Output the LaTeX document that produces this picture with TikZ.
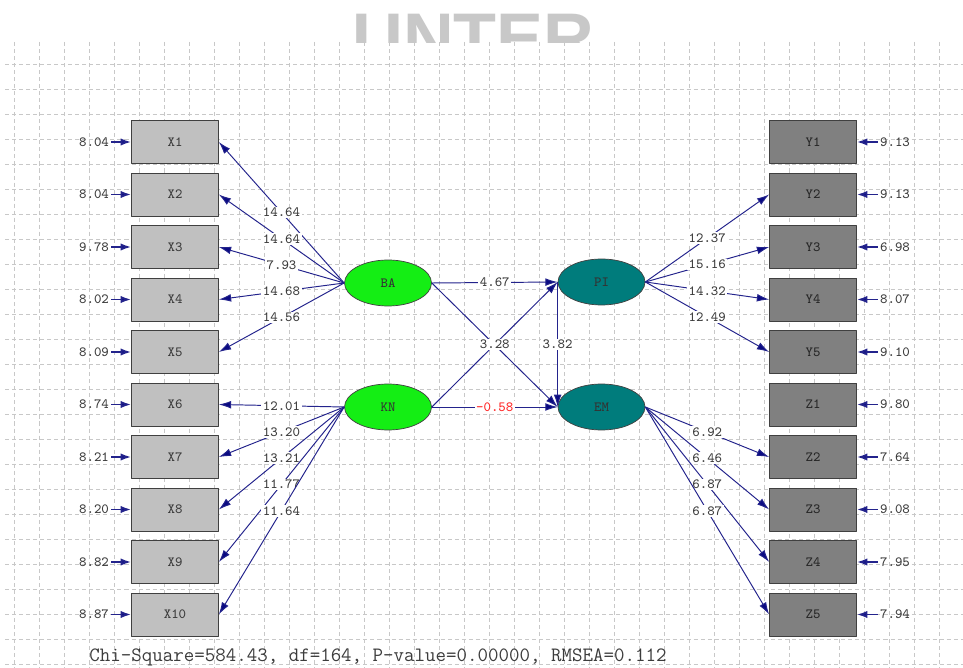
\documentclass[tikz,border=0pt]{standalone}
\usepackage{fontspec}
\setsansfont{Liberation Sans}
\usetikzlibrary{arrows.meta,shapes.geometric}
\definecolor{pathblue}{RGB}{35,35,140}
\definecolor{headblue}{RGB}{10,10,130}
\definecolor{gridgray}{RGB}{200,200,200}
\definecolor{markgray}{RGB}{200,200,200}
\definecolor{latgreen}{RGB}{20,238,20}
\definecolor{latteal}{RGB}{0,124,124}
\definecolor{boxlight}{RGB}{192,192,192}
\definecolor{boxdark}{RGB}{128,128,128}
\definecolor{txtgray}{RGB}{60,60,60}
\tikzset{
  smalltt/.style={font=\ttfamily\fontsize{8}{9}\selectfont},
  xbox/.style={draw=black!75, fill=boxlight, minimum width=1.74cm, minimum height=0.86cm, inner sep=0pt, smalltt, text=txtgray},
  ybox/.style={xbox, fill=boxdark, text=black!85},
  latent/.style={ellipse, draw=black!75, fill=latgreen, minimum width=1.74cm, minimum height=0.92cm, inner sep=0pt, smalltt, text=black!80},
  endo/.style={latent, fill=latteal},
  errlbl/.style={inner sep=1pt, smalltt, text=txtgray},
  lbl/.style={fill=white, inner sep=0.8pt, smalltt, text=txtgray},
  path/.style={draw=pathblue, line width=0.55pt, -{Latex[length=7pt,width=4.4pt,fill=headblue]}},
  errpath/.style={draw=pathblue, line width=1pt, -{Latex[length=6pt,width=4.2pt,fill=headblue]}},
}
\begin{document}
\begin{tikzpicture}[x=0.02cm,y=-0.02cm,line join=round]
\useasboundingbox (0,0) rectangle (963,668);
\fill[white] (0,0) rectangle (963,668);
% watermark, cut by the grid
\begin{scope}
\clip (0,0) rectangle (963,42.5);
\node[anchor=base west, inner sep=0pt, text=markgray, font=\sffamily\bfseries\fontsize{40}{42}\selectfont] (mark) at (352,63) {UNTER};
\end{scope}
% grid
\foreach \gx in {0,...,37}
  \draw[gridgray, line width=0.4pt, dash pattern=on 2.3pt off 1.7pt] (14.5+25*\gx,42) -- (14.5+25*\gx,668);
\foreach \gy in {0,...,24}
  \draw[gridgray, line width=0.4pt, dash pattern=on 2.3pt off 1.7pt] (5,64+25*\gy) -- (963,64+25*\gy);

% observed variables
\node[xbox] (X1) at (175,142) {X1};
\node[xbox] (X2) at (175,194.5) {X2};
\node[xbox] (X3) at (175,247) {X3};
\node[xbox] (X4) at (175,299.5) {X4};
\node[xbox] (X5) at (175,352) {X5};
\node[xbox] (X6) at (175,404.5) {X6};
\node[xbox] (X7) at (175,457) {X7};
\node[xbox] (X8) at (175,509.5) {X8};
\node[xbox] (X9) at (175,562) {X9};
\node[xbox] (X10) at (175,614.5) {X10};
\node[ybox] (Y1) at (813,142) {Y1};
\node[ybox] (Y2) at (813,194.5) {Y2};
\node[ybox] (Y3) at (813,247) {Y3};
\node[ybox] (Y4) at (813,299.5) {Y4};
\node[ybox] (Y5) at (813,352) {Y5};
\node[ybox] (Z1) at (813,404.5) {Z1};
\node[ybox] (Z2) at (813,457) {Z2};
\node[ybox] (Z3) at (813,509.5) {Z3};
\node[ybox] (Z4) at (813,562) {Z4};
\node[ybox] (Z5) at (813,614.5) {Z5};

% error variances
\node[errlbl] (eX1) at (94,142) {8.04};
\node[errlbl] (eX2) at (94,194.5) {8.04};
\node[errlbl] (eX3) at (94,247) {9.78};
\node[errlbl] (eX4) at (94,299.5) {8.02};
\node[errlbl] (eX5) at (94,352) {8.09};
\node[errlbl] (eX6) at (94,404.5) {8.74};
\node[errlbl] (eX7) at (94,457) {8.21};
\node[errlbl] (eX8) at (94,509.5) {8.20};
\node[errlbl] (eX9) at (94,562) {8.82};
\node[errlbl] (eX10) at (94,614.5) {8.87};
\node[errlbl] (eY1) at (895,142) {9.13};
\node[errlbl] (eY2) at (895,194.5) {9.13};
\node[errlbl] (eY3) at (895,247) {6.98};
\node[errlbl] (eY4) at (895,299.5) {8.07};
\node[errlbl] (eY5) at (895,352) {9.10};
\node[errlbl] (eZ1) at (895,404.5) {9.80};
\node[errlbl] (eZ2) at (895,457) {7.64};
\node[errlbl] (eZ3) at (895,509.5) {9.08};
\node[errlbl] (eZ4) at (895,562) {7.95};
\node[errlbl] (eZ5) at (895,614.5) {7.94};
\draw[errpath] (eX1.east) -- (X1.west);
\draw[errpath] (eX2.east) -- (X2.west);
\draw[errpath] (eX3.east) -- (X3.west);
\draw[errpath] (eX4.east) -- (X4.west);
\draw[errpath] (eX5.east) -- (X5.west);
\draw[errpath] (eX6.east) -- (X6.west);
\draw[errpath] (eX7.east) -- (X7.west);
\draw[errpath] (eX8.east) -- (X8.west);
\draw[errpath] (eX9.east) -- (X9.west);
\draw[errpath] (eX10.east) -- (X10.west);
\draw[errpath] (eY1.west) -- (Y1.east);
\draw[errpath] (eY2.west) -- (Y2.east);
\draw[errpath] (eY3.west) -- (Y3.east);
\draw[errpath] (eY4.west) -- (Y4.east);
\draw[errpath] (eY5.west) -- (Y5.east);
\draw[errpath] (eZ1.west) -- (Z1.east);
\draw[errpath] (eZ2.west) -- (Z2.east);
\draw[errpath] (eZ3.west) -- (Z3.east);
\draw[errpath] (eZ4.west) -- (Z4.east);
\draw[errpath] (eZ5.west) -- (Z5.east);

% latent variables
\node[latent] (BA) at (388,283) {BA};
\node[latent] (KN) at (388,407) {KN};
\node[endo] (PI) at (601.5,282) {PI};
\node[endo] (EM) at (601.5,407) {EM};

% loadings
\draw[path] (BA.west) -- (X1.east) node[lbl, midway] {14.64};
\draw[path] (BA.west) -- (X2.east) node[lbl, midway] {14.64};
\draw[path] (BA.west) -- (X3.east) node[lbl, midway] {7.93};
\draw[path] (BA.west) -- (X4.east) node[lbl, midway] {14.68};
\draw[path] (BA.west) -- (X5.east) node[lbl, midway] {14.56};
\draw[path] (KN.west) -- (X6.east) node[lbl, midway] {12.01};
\draw[path] (KN.west) -- (X7.east) node[lbl, midway] {13.20};
\draw[path] (KN.west) -- (X8.east) node[lbl, midway] {13.21};
\draw[path] (KN.west) -- (X9.east) node[lbl, midway] {11.77};
\draw[path] (KN.west) -- (X10.east) node[lbl, midway] {11.64};
\draw[path] (PI.east) -- (Y2.west) node[lbl, midway] {12.37};
\draw[path] (PI.east) -- (Y3.west) node[lbl, midway] {15.16};
\draw[path] (PI.east) -- (Y4.west) node[lbl, midway] {14.32};
\draw[path] (PI.east) -- (Y5.west) node[lbl, midway] {12.49};
\draw[path] (EM.east) -- (Z2.west) node[lbl, midway] {6.92};
\draw[path] (EM.east) -- (Z3.west) node[lbl, midway] {6.46};
\draw[path] (EM.east) -- (Z4.west) node[lbl, midway] {6.87};
\draw[path] (EM.east) -- (Z5.west) node[lbl, midway] {6.87};

% structural paths
\draw[path] (BA.east) -- (PI.west) node[lbl, midway] {4.67};
\draw[path] (KN.east) -- (EM.west) node[lbl, midway, text=red!85] {-0.58};
\draw[path] (BA.east) -- (EM.west);
\draw[path] (KN.east) -- (PI.west) node[lbl, midway] {3.28};
\draw[path] (PI.west) -- (EM.west) node[lbl, midway] {3.82};

\node[anchor=west, inner sep=0pt, text=txtgray, font=\ttfamily\fontsize{11.6}{13}\selectfont] (fit) at (89,657) {Chi-Square=584.43, df=164, P-value=0.00000, RMSEA=0.112};
\end{tikzpicture}
\end{document}
